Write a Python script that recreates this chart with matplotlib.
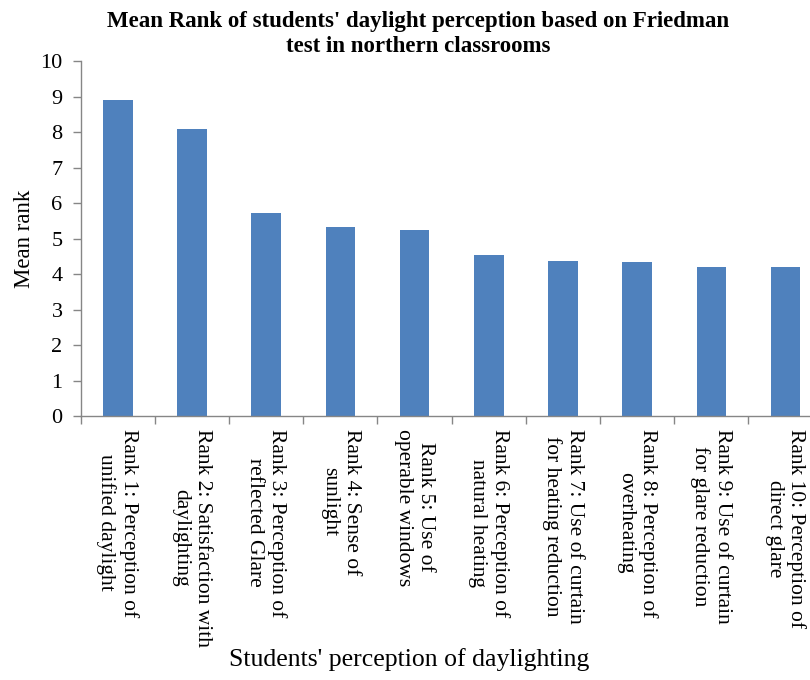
import matplotlib
matplotlib.use("Agg")
import matplotlib.pyplot as plt
import numpy as np

plt.rcParams['font.family'] = ['Liberation Serif', 'DejaVu Serif']

categories = [
    "Rank 1: Perception of\nunified daylight",
    "Rank 2: Satisfaction with\ndaylighting",
    "Rank 3: Perception of\nreflected Glare",
    "Rank 4: Sense of\nsunlight",
    "Rank 5: Use of\noperable windows",
    "Rank 6: Perception of\nnatural heating",
    "Rank 7: Use of curtain\nfor heating reduction",
    "Rank 8: Perception of\noverheating",
    "Rank 9: Use of curtain\nfor glare reduction",
    "Rank 10: Perception of\ndirect glare",
]
mean_rank = [8.90, 8.08, 5.73, 5.32, 5.24, 4.54, 4.37, 4.34, 4.21, 4.21]
y_ticks = list(range(0, 11))

bar_color = "#4F81BD"
axis_color = "#868686"

fig = plt.figure(figsize=(8.1, 6.8), dpi=100)
ax = fig.add_axes([0.0996, 0.388, 0.916, 0.522])

x = np.arange(len(categories))
ax.bar(x, mean_rank, width=0.4, color=bar_color, zorder=2)

ax.set_xlim(-0.5, len(categories) - 0.5)
ax.set_ylim(0, 10)
ax.set_yticks(y_ticks)
ax.set_yticklabels([str(t) for t in y_ticks], fontsize=16)

# category labels sit between boundary tick marks
ax.set_xticks(x)
ax.set_xticklabels(categories, rotation=270, fontsize=15.5,
                   ha='center', va='top', multialignment='center',
                   linespacing=1.2)
ax.tick_params(axis='x', length=0, pad=9)
ax.set_xticks(np.arange(-0.5, len(categories) + 0.5, 1.0), minor=True)
ax.tick_params(axis='x', which='minor', length=6, color=axis_color, width=1)
ax.tick_params(axis='y', length=6, color=axis_color, width=1, pad=7)

for side in ('top', 'right'):
    ax.spines[side].set_visible(False)
for side in ('left', 'bottom'):
    ax.spines[side].set_color(axis_color)
    ax.spines[side].set_linewidth(1)

ax.set_ylabel("Mean rank", fontsize=16.5, labelpad=4)

fig.text(0.516, 0.984, "Mean Rank of students' daylight perception based on Friedman\n"
         "test in northern classrooms", ha='center', va='top',
         fontsize=16.5, fontweight='bold', linespacing=1.25)
fig.text(0.505, 0.03, "Students' perception of daylighting",
         ha='center', va='center', fontsize=18.5)

fig.savefig("out.png", dpi=100)
